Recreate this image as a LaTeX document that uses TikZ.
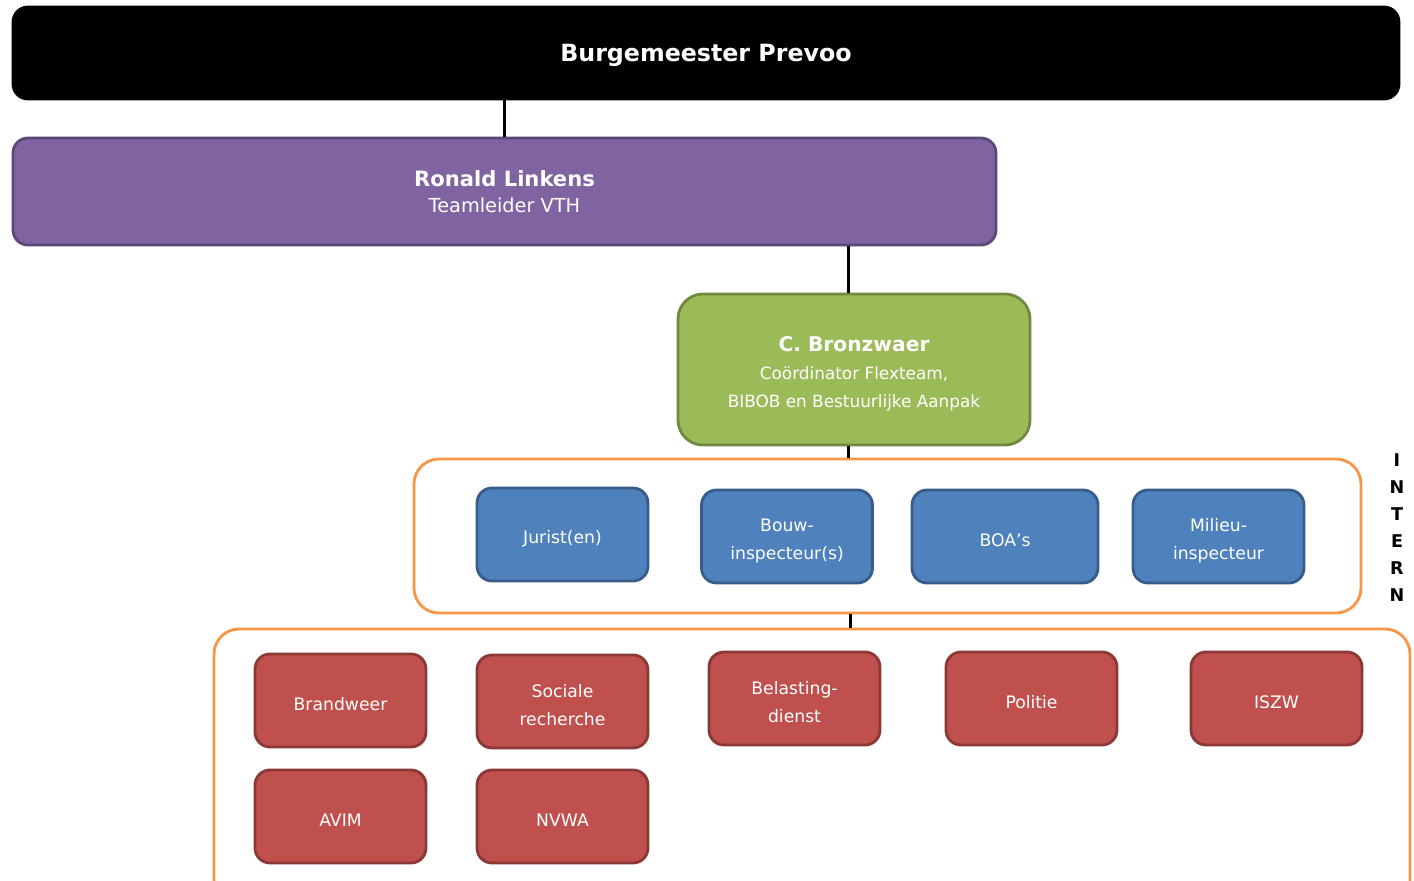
\documentclass[tikz,border=0pt]{standalone}
\usepackage{fontspec}
\setmainfont{DejaVu Sans}
\definecolor{bossfill}{HTML}{000000}
\definecolor{teamfill}{HTML}{8064A2}
\definecolor{teamline}{HTML}{5C4776}
\definecolor{coordfill}{HTML}{9BBB59}
\definecolor{coordline}{HTML}{71893F}
\definecolor{internfill}{HTML}{4F81BD}
\definecolor{internline}{HTML}{385D8A}
\definecolor{externfill}{HTML}{C0504D}
\definecolor{externline}{HTML}{8C3836}
\definecolor{groupline}{HTML}{F79646}
\newcommand{\lift}[1][12pt]{\rule{0pt}{#1}}

\begin{document}
\begin{tikzpicture}[%
    box/.style={
        rounded corners=0.3cm,
        line width=1.6pt,
        text=white,
        align=center,
        inner sep=0pt
        },
    lowertext/.style={execute at begin node={\rule{0pt}{#1}}},
    lowertext/.default=1.2em,
    bossbox/.style={
        box,
        lowertext=0.95em,
        fill=bossfill,
        draw=bossfill,
        minimum width=27.72cm,
        minimum height=1.84cm,
        font=\bfseries\fontsize{13.5}{16}\selectfont
        },
    teambox/.style={
        box,
        fill=teamfill,
        draw=teamline,
        minimum width=19.66cm,
        minimum height=2.14cm
        },
    coordbox/.style={
        box,
        rounded corners=0.5cm,
        fill=coordfill,
        draw=coordline,
        minimum width=7.04cm,
        minimum height=3.02cm,
        font=\fontsize{9.6}{16}\selectfont
        },
    internbox/.style={
        box,
        fill=internfill,
        draw=internline,
        minimum width=3.42cm,
        minimum height=1.86cm,
        font=\fontsize{9.8}{16}\selectfont
        },
    externbox/.style={
        internbox,
        fill=externfill,
        draw=externline
        },
    groupbox/.style={
        rounded corners=0.5cm,
        line width=1.6pt,
        draw=groupline,
        fill=white,
        inner sep=0pt
        },
    conn/.style={line width=1.7pt, black}
]

\clip (0,0) rectangle (28.28,-17.6);

% top of the chart
\node[bossbox] (boss) at (14.12,-1.06) {Burgemeester Prevoo};
\node[teambox] (linkens) at (10.09,-3.83)
    {{\bfseries\fontsize{12}{16}\selectfont Ronald Linkens}\\[3pt]
     {\fontsize{11}{14}\selectfont Teamleider VTH}};
\node[coordbox] (bronz) at (17.08,-7.39)
    {{\lift[13pt]\bfseries\fontsize{11.5}{16}\selectfont C. Bronzwaer}\\
     Coördinator Flexteam,\\
     BIBOB en Bestuurlijke Aanpak};
\coordinate (trunk) at ([xshift=-0.12cm]bronz.north);

% groups
\node[groupbox, minimum width=18.94cm, minimum height=3.08cm] (intern) at (17.75,-10.72) {};
\node[groupbox, minimum width=23.92cm, minimum height=5.52cm] (extern) at (16.24,-15.34) {};

\node[align=center, font=\bfseries\fontsize{10}{15.4}\selectfont] (internlabel) at (27.94,-10.55)
    {I\\N\\T\\E\\R\\N};

% intern
\node[internbox, lowertext] (jurist) at (11.25,-10.69) {Jurist(en)};
\node[internbox] (bouw) at (15.74,-10.73) {\lift Bouw-\\inspecteur(s)};
\node[internbox, lowertext, minimum width=3.72cm] (boa) at (20.10,-10.73) {BOA’s};
\node[internbox] (milieu) at (24.37,-10.73) {\lift Milieu-\\inspecteur};

% extern
\node[externbox, lowertext] (brandweer) at (6.81,-14.01) {Brandweer};
\node[externbox] (sociale) at (11.25,-14.03) {\lift Sociale\\recherche};
\node[externbox] (belasting) at (15.89,-13.97) {\lift Belasting-\\dienst};
\node[externbox, lowertext] (politie) at (20.63,-13.97) {Politie};
\node[externbox, lowertext] (iszw) at (25.53,-13.97) {ISZW};
\node[externbox, lowertext] (avim) at (6.81,-16.33) {AVIM};
\node[externbox, lowertext] (nvwa) at (11.25,-16.33) {NVWA};

\draw[conn] (linkens.north) -- (linkens.north |- boss.south);
\draw[conn] (trunk) -- (trunk |- linkens.south);
\draw[conn] (trunk |- bronz.south) -- (trunk |- intern.north);
\draw[conn] ([xshift=0.04cm]trunk |- intern.south) -- ([xshift=0.04cm]trunk |- extern.north);

\end{tikzpicture}
\end{document}
